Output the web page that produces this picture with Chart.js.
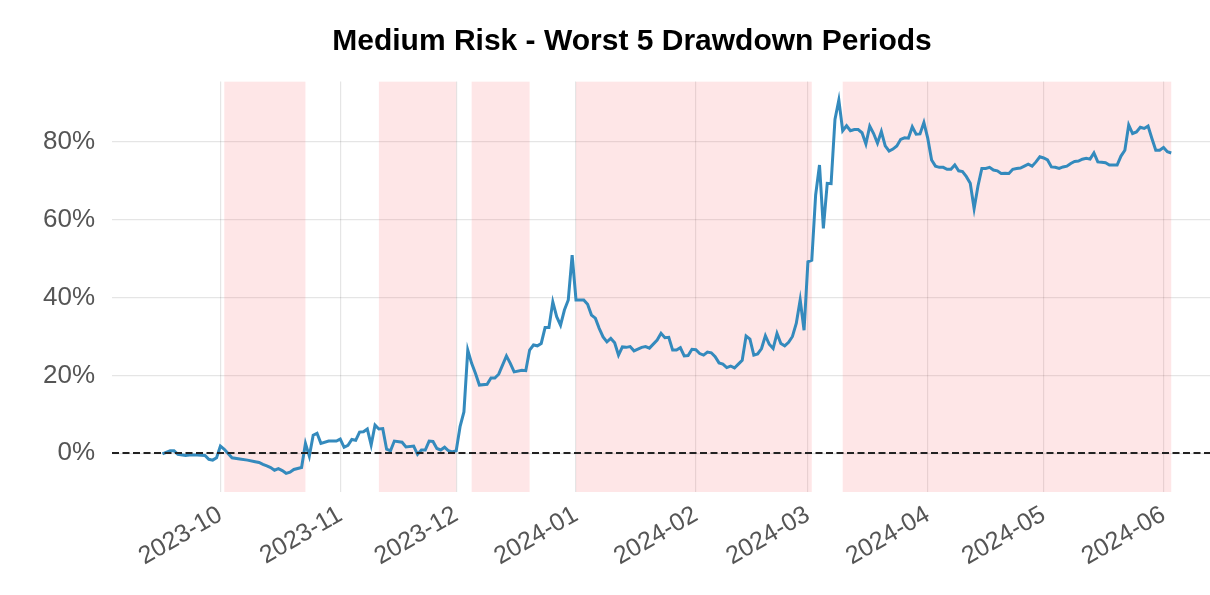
<!DOCTYPE html>
<html><head><meta charset="utf-8">
<script src="https://cdn.jsdelivr.net/npm/chart.js@4.4.1/dist/chart.umd.min.js"></script>
<style>
html,body{margin:0;padding:0;overflow:hidden;background:#fff;width:1210px;height:595px}
#wrap{position:absolute;left:0;top:0;width:1264px;height:595px}
</style>
</head><body><div id="wrap"><canvas id="c" width="1264" height="595"></canvas></div>
<script>
// ---- data ----
const dates = [
 '2023-09-16','2023-09-18','2023-09-19','2023-09-20','2023-09-22','2023-09-23','2023-09-25','2023-09-27','2023-09-28','2023-09-29','2023-09-30',
 '2023-10-01','2023-10-02','2023-10-04','2023-10-06','2023-10-08','2023-10-10','2023-10-11','2023-10-12','2023-10-13','2023-10-14','2023-10-15','2023-10-16','2023-10-17','2023-10-18','2023-10-19','2023-10-20','2023-10-22','2023-10-23','2023-10-24','2023-10-25','2023-10-26','2023-10-27','2023-10-29','2023-10-31',
 '2023-11-01','2023-11-02','2023-11-03','2023-11-04','2023-11-05','2023-11-06','2023-11-07','2023-11-08','2023-11-09','2023-11-10','2023-11-11','2023-11-12','2023-11-13','2023-11-14','2023-11-15','2023-11-17','2023-11-18','2023-11-20','2023-11-21','2023-11-22','2023-11-23','2023-11-24','2023-11-25','2023-11-26','2023-11-27','2023-11-28','2023-11-29','2023-11-30',
 '2023-12-01','2023-12-02','2023-12-03','2023-12-04','2023-12-05','2023-12-06','2023-12-07','2023-12-09','2023-12-10','2023-12-11','2023-12-12','2023-12-14','2023-12-15','2023-12-16','2023-12-18','2023-12-19','2023-12-20','2023-12-21','2023-12-22','2023-12-23','2023-12-24','2023-12-25','2023-12-26','2023-12-27','2023-12-28','2023-12-29','2023-12-30','2023-12-31',
 '2024-01-01','2024-01-03','2024-01-04','2024-01-05','2024-01-06','2024-01-07','2024-01-08','2024-01-09','2024-01-10','2024-01-11','2024-01-12','2024-01-13','2024-01-14','2024-01-15','2024-01-16','2024-01-18','2024-01-19','2024-01-20','2024-01-22','2024-01-23','2024-01-24','2024-01-25','2024-01-26','2024-01-27','2024-01-28','2024-01-29','2024-01-30','2024-01-31',
 '2024-02-01','2024-02-02','2024-02-03','2024-02-04','2024-02-05','2024-02-06','2024-02-07','2024-02-08','2024-02-09','2024-02-10','2024-02-11','2024-02-12','2024-02-13','2024-02-14','2024-02-15','2024-02-16','2024-02-17','2024-02-18','2024-02-19','2024-02-20','2024-02-21','2024-02-22','2024-02-23','2024-02-24','2024-02-25','2024-02-26','2024-02-27','2024-02-28','2024-02-29',
 '2024-03-01','2024-03-02','2024-03-03','2024-03-04','2024-03-05','2024-03-06','2024-03-07','2024-03-08','2024-03-09','2024-03-10','2024-03-11','2024-03-12','2024-03-13','2024-03-14','2024-03-15','2024-03-16','2024-03-17','2024-03-18','2024-03-19','2024-03-20','2024-03-21','2024-03-22','2024-03-23','2024-03-24','2024-03-25','2024-03-26','2024-03-27','2024-03-28','2024-03-29','2024-03-30','2024-03-31',
 '2024-04-01','2024-04-02','2024-04-03','2024-04-04','2024-04-05','2024-04-06','2024-04-07','2024-04-08','2024-04-09','2024-04-10','2024-04-11','2024-04-12','2024-04-13','2024-04-14','2024-04-15','2024-04-16','2024-04-17','2024-04-18','2024-04-19','2024-04-20','2024-04-21','2024-04-22','2024-04-23','2024-04-24','2024-04-25','2024-04-26','2024-04-27','2024-04-28','2024-04-29','2024-04-30',
 '2024-05-01','2024-05-02','2024-05-03','2024-05-04','2024-05-05','2024-05-06','2024-05-07','2024-05-08','2024-05-09','2024-05-10','2024-05-11','2024-05-12','2024-05-13','2024-05-14','2024-05-15','2024-05-16','2024-05-17','2024-05-18','2024-05-19','2024-05-20','2024-05-21','2024-05-22','2024-05-23','2024-05-24','2024-05-25','2024-05-26','2024-05-27','2024-05-28','2024-05-29','2024-05-30','2024-05-31',
 '2024-06-01','2024-06-02','2024-06-03'
];
const cumulativeReturnPct = [
 -0.2,0.6,0.6,-0.3,-0.6,-0.5,-0.5,-0.6,-1.6,-1.8,-1.2,
 1.8,1.0,-1.2,-1.5,-1.8,-2.2,-2.4,-2.9,-3.3,-3.7,-4.4,-4.0,-4.5,-5.2,-4.9,-4.2,-3.7,2.5,-0.8,4.6,5.1,2.5,3.1,3.1,
 3.6,1.5,2.0,3.5,3.3,5.4,5.5,6.2,2.1,7.2,6.2,6.3,1.0,0.6,3.1,2.8,1.6,1.8,-0.3,0.8,0.8,3.1,3.0,1.2,0.8,1.5,0.6,0.3,
 0.6,6.8,10.6,26.5,23.1,20.5,17.5,17.7,19.3,19.3,20.3,25.0,23.1,20.9,21.3,21.2,26.5,27.8,27.6,28.2,32.3,32.3,38.9,35.1,32.9,36.8,39.4,50.9,
 39.4,39.4,38.3,35.5,34.7,32.1,29.9,28.6,29.5,28.4,25.2,27.3,27.2,27.4,26.3,27.2,27.4,27.0,29.1,30.8,29.7,29.8,26.5,26.5,27.1,25.0,25.1,26.7,
 26.6,25.6,25.2,26.0,25.8,24.8,23.2,22.9,22.0,22.4,21.9,22.9,23.9,30.1,29.3,25.2,25.5,26.9,30.2,28.0,26.9,30.8,28.2,27.6,28.5,30.0,33.4,39.4,31.6,
 49.2,49.6,66.4,74.1,57.8,69.4,69.3,85.8,90.8,82.9,84.2,82.9,83.2,83.2,82.4,79.5,84.1,82.2,79.7,82.7,79.0,77.7,78.2,79.0,80.7,81.1,81.0,83.9,82.0,82.1,85.0,
 81.0,75.4,73.8,73.5,73.5,73.0,73.0,74.1,72.6,72.4,71.1,69.4,62.9,68.7,73.2,73.2,73.5,72.8,72.6,71.9,72.0,71.9,73.0,73.2,73.3,73.8,74.3,73.8,74.9,76.2,
 75.9,75.4,73.6,73.5,73.2,73.6,73.8,74.5,75.0,75.1,75.6,75.8,75.6,77.2,74.9,74.8,74.7,74.1,74.1,74.1,76.4,77.9,84.4,82.2,82.6,83.8,83.5,84.1,80.9,77.9,77.9,
 78.6,77.5,77.2
];
const drawdownStarts = ['2023-10-02','2023-11-11','2023-12-05','2024-01-01','2024-03-10'];
const drawdownEnds   = ['2023-10-23','2023-12-01','2023-12-20','2024-03-02','2024-06-03'];
const monthTickDates = ['2023-10-01','2023-11-01','2023-12-01','2024-01-01','2024-02-01','2024-03-01','2024-04-01','2024-05-01','2024-06-01'];
const monthTickLabels = ['2023-10','2023-11','2023-12','2024-01','2024-02','2024-03','2024-04','2024-05','2024-06'];
const yTickValues = [0,20,40,60,80];
const chartTitle = 'Medium Risk - Worst 5 Drawdown Periods';

// ---- helpers ----
const ORIGIN = Date.UTC(2023, 9, 1);
function dayOf(s){ const p = s.split('-').map(Number); return (Date.UTC(p[0], p[1]-1, p[2]) - ORIGIN) / 86400000; }

const points = dates.map((d, i) => ({ x: dayOf(d), y: cumulativeReturnPct[i] }));

const spanPlugin = {
  id: 'drawdownSpans',
  beforeDatasetsDraw(chart) {
    const { ctx, chartArea: a, scales: { x } } = chart;
    ctx.save();
    ctx.beginPath(); ctx.rect(a.left, a.top, a.right - a.left, a.bottom - a.top); ctx.clip();
    ctx.fillStyle = 'rgba(250,60,70,0.13)';
    drawdownStarts.forEach((s, i) => {
      const x0 = x.getPixelForValue(dayOf(s));
      const x1 = x.getPixelForValue(dayOf(drawdownEnds[i]));
      ctx.fillRect(x0, a.top, x1 - x0, a.bottom - a.top);
    });
    ctx.restore();
  },
  afterDatasetsDraw(chart) {
    const { ctx, chartArea: a, scales: { y } } = chart;
    const y0 = Math.round(y.getPixelForValue(0));
    ctx.save();
    ctx.strokeStyle = '#222';
    ctx.lineWidth = 2;
    ctx.setLineDash([7, 3.5]);
    ctx.beginPath(); ctx.moveTo(a.left, y0); ctx.lineTo(a.right, y0); ctx.stroke();
    ctx.restore();
  }
};

new Chart(document.getElementById('c'), {
  type: 'line',
  data: { datasets: [{
    data: points,
    borderColor: '#348ABD',
    borderWidth: 3,
    pointRadius: 0,
    tension: 0,
    fill: false
  }]},
  plugins: [spanPlugin],
  options: {
    responsive: false,
    animation: false,
    devicePixelRatio: 1,
    layout: { padding: { left: 0, right: 0, top: 0, bottom: 0 } },
    plugins: {
      legend: { display: false },
      tooltip: { enabled: false },
      title: {
        display: true,
        text: chartTitle,
        color: '#000',
        font: { family: "'Liberation Sans', Arial, sans-serif", size: 30, weight: 'bold', lineHeight: 1.2 },
        padding: { top: 23.4, bottom: 22 }
      }
    },
    scales: {
      x: {
        type: 'linear',
        min: -28.05,
        max: 270.0,
        border: { display: false },
        grid: { color: 'rgba(0,0,0,0.10)', lineWidth: 1.2, drawTicks: false },
        afterBuildTicks(scale) { scale.ticks = monthTickDates.map(d => ({ value: dayOf(d) })); },
        afterFit(scale) { scale.height = 103; },
        ticks: {
          autoSkip: false,
          minRotation: 30, maxRotation: 30,
          padding: 8,
          color: '#555',
          font: { family: "'Liberation Sans', Arial, sans-serif", size: 25 },
          callback(value, index) { return monthTickLabels[index]; }
        }
      },
      y: {
        min: -10.0,
        max: 95.6,
        border: { display: false },
        grid: { color: 'rgba(0,0,0,0.10)', lineWidth: 1.2, drawTicks: false },
        afterBuildTicks(scale) { scale.ticks = yTickValues.map(v => ({ value: v })); },
        afterFit(scale) { scale.width = 112; },
        ticks: {
          padding: 17,
          color: '#555',
          font: { family: "'Liberation Sans', Arial, sans-serif", size: 26 },
          callback(value) { return value + '%'; }
        }
      }
    }
  }
});
</script>
</body></html>
